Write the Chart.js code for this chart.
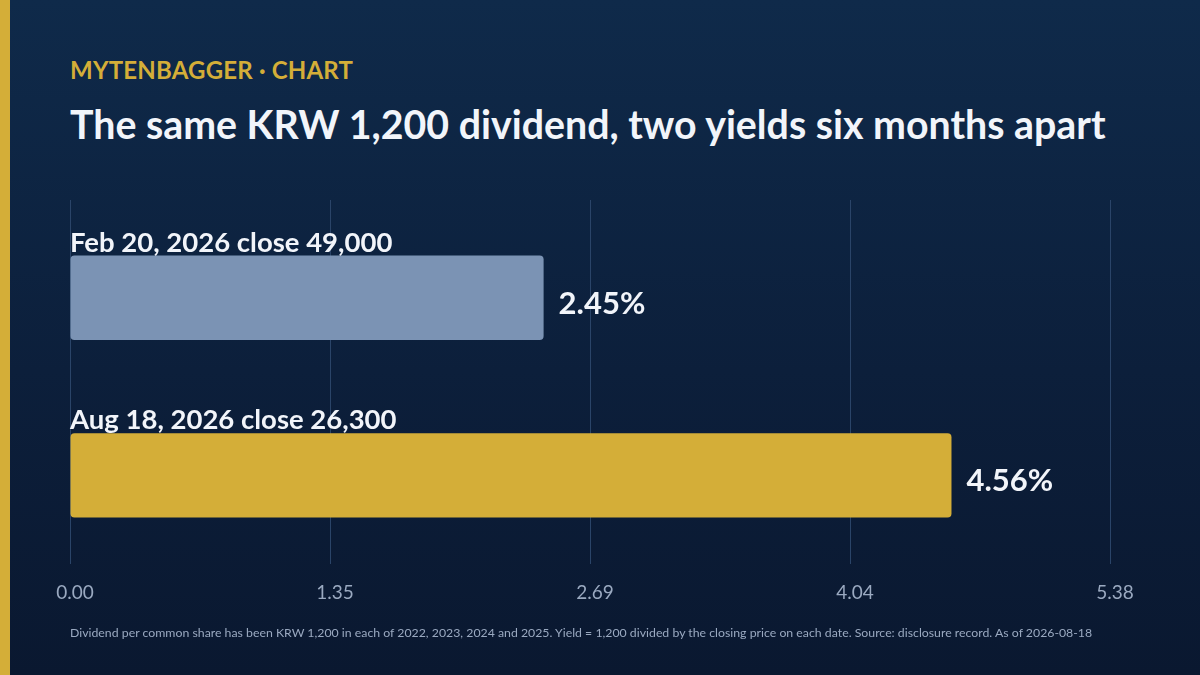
<!DOCTYPE html>
<html>
<head>
<meta charset="utf-8">
<script src="https://cdn.jsdelivr.net/npm/chart.js@4.4.1/dist/chart.umd.min.js"></script>
<style>
  html, body { margin:0; padding:0; }
  body { width:1200px; height:675px; overflow:hidden; position:relative;
         background: linear-gradient(180deg, #0f2a4a 0%, #0c1f3b 55%, #0a1830 100%);
         font-family: Lato, "Noto Sans", sans-serif; }
  #stripe { position:absolute; left:0; top:0; width:10px; height:675px; background:#d4ae38; }
  #kicker { position:absolute; left:70px; top:55px; color:#d4ae38; font-weight:700; font-size:24px; letter-spacing:0.2px; }
  #title { position:absolute; left:70px; top:100px; color:#f2f5fa; font-weight:700; font-size:39.3px; }
  #note { position:absolute; left:70px; top:625px; color:#9aa9c0; font-size:12.3px; }
  #wrap { position:absolute; left:0; top:0; width:1200px; height:675px; }
</style>
</head>
<body>
<div id="stripe"></div>
<div id="kicker">MYTENBAGGER · CHART</div>
<div id="title">The same KRW 1,200 dividend, two yields six months apart</div>
<div id="wrap"><canvas id="c" width="1200" height="675"></canvas></div>
<div id="note">Dividend per common share has been KRW 1,200 in each of 2022, 2023, 2024 and 2025. Yield = 1,200 divided by the closing price on each date. Source: disclosure record. As of 2026-08-18</div>
<script>
const categories = ["Feb 20, 2026 close 49,000", "Aug 18, 2026 close 26,300"];
const yields = [2.45, 4.56];
const valueLabels = ["2.45%", "4.56%"];
const barColors = ["#7b93b4", "#d4ae38"];
const tickValues = [0, 1.345, 2.69, 4.035, 5.38];
const tickLabels = ["0.00", "1.35", "2.69", "4.04", "5.38"];
const axisMax = 5.38;

const labelPlugin = {
  id: 'barLabels',
  beforeDatasetsDraw(chart) {
    const ctx = chart.ctx, xs = chart.scales.x, area = chart.chartArea;
    ctx.save();
    ctx.strokeStyle = '#2a4468';
    ctx.lineWidth = 1;
    xs.ticks.forEach(t => {
      const px = Math.round(xs.getPixelForValue(t.value)) + 0.5;
      ctx.beginPath(); ctx.moveTo(px, 200); ctx.lineTo(px, area.top); ctx.stroke();
    });
    ctx.restore();
  },
  afterDatasetsDraw(chart) {
    const ctx = chart.ctx;
    const meta = chart.getDatasetMeta(0);
    ctx.save();
    meta.data.forEach((bar, i) => {
      const top = bar.y - bar.height / 2;
      ctx.fillStyle = '#f2f5fa';
      ctx.font = '700 27.5px Lato, "Noto Sans", sans-serif';
      ctx.textAlign = 'left';
      ctx.textBaseline = 'alphabetic';
      ctx.fillText(categories[i], chart.scales.x.getPixelForValue(0), top - 4);
      ctx.font = '700 31px Lato, "Noto Sans", sans-serif';
      ctx.textBaseline = 'middle';
      ctx.fillText(valueLabels[i], bar.x + 15, bar.y + 6);
    });
    ctx.restore();
  }
};

new Chart(document.getElementById('c'), {
  type: 'bar',
  data: {
    labels: categories,
    datasets: [{
      data: yields,
      backgroundColor: barColors,
      borderRadius: 4,
      borderSkipped: false,
      barPercentage: 0.95,
      categoryPercentage: 0.5
    }]
  },
  options: {
    indexAxis: 'y',
    responsive: false,
    animation: false,
    devicePixelRatio: 1,
    layout: { padding: { left: 70, right: 90, top: 209, bottom: 54 } },
    plugins: { legend: { display: false }, tooltip: { enabled: false }, title: { display: false } },
    scales: {
      x: {
        min: 0, max: axisMax,
        afterBuildTicks(scale) { scale.ticks = tickValues.map(v => ({ value: v })); },
        ticks: {
          color: '#9aa9c0',
          font: { family: 'Lato, "Noto Sans", sans-serif', size: 19 },
          padding: 17,
          labelOffset: 5,
          callback: (v, i) => tickLabels[i]
        },
        grid: { color: '#2a4468', lineWidth: 1, drawTicks: false },
        border: { display: false }
      },
      y: { display: false, grid: { display: false } }
    }
  },
  plugins: [labelPlugin]
});
</script>
</body>
</html>
